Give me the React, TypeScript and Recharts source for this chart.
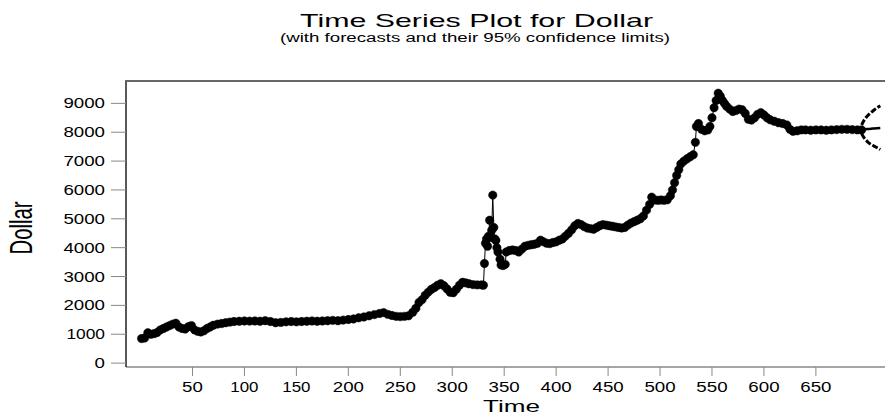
import { LineChart, Line, XAxis, YAxis } from 'recharts';

const times = [
  1, 4, 7, 10, 13, 16, 19, 22, 25, 28, 31, 34, 37, 40, 43, 46, 49, 52, 55, 58,
  61, 64, 67, 70, 74, 78, 82, 86, 90, 95, 100, 105, 110, 115, 120, 125, 130, 135, 140, 145,
  150, 155, 160, 165, 170, 175, 180, 185, 190, 195, 200, 205, 210, 215, 220, 225, 230, 234, 238, 242,
  246, 250, 254, 258, 262, 265, 268, 271, 274, 277, 280, 283, 286, 289, 292, 295, 298, 301, 304, 307,
  310, 313, 316, 320, 324, 328, 330, 331, 332, 333, 334, 335, 336, 337, 338, 339, 340, 341, 342, 343,
  344, 346, 347, 349, 351, 352, 355, 358, 361, 364, 367, 370, 373, 376, 379, 382, 385, 388, 391, 394,
  397, 400, 403, 406, 409, 412, 415, 418, 421, 424, 427, 430, 433, 436, 439, 442, 445, 448, 451, 454,
  457, 460, 463, 466, 469, 472, 475, 478, 481, 484, 487, 490, 492, 495, 498, 501, 504, 507, 510, 512,
  514, 516, 518, 520, 523, 526, 529, 532, 534, 535, 537, 540, 543, 546, 548, 550, 552, 554, 556, 558,
  560, 562, 564, 567, 570, 573, 576, 579, 582, 585, 588, 591, 594, 597, 600, 603, 606, 610, 614, 618,
  622, 625, 628, 632, 636, 640, 645, 650, 655, 660, 665, 670, 675, 680, 685, 690, 694,
];
const dollar = [
  850, 870, 1050, 1000, 1020, 1060, 1150, 1200, 1250, 1300, 1350, 1380, 1250, 1200, 1180, 1260, 1300, 1150, 1100, 1080,
  1120, 1200, 1250, 1310, 1350, 1370, 1400, 1420, 1440, 1450, 1460, 1455, 1460, 1450, 1470, 1440, 1400, 1410, 1430, 1440,
  1430, 1440, 1450, 1460, 1450, 1460, 1470, 1480, 1470, 1490, 1510, 1530, 1570, 1600, 1640, 1680, 1720, 1750, 1690, 1650,
  1620, 1610, 1620, 1640, 1760, 1900, 2100, 2200, 2350, 2460, 2560, 2620, 2700, 2750, 2680, 2570, 2450, 2440, 2560, 2700,
  2800, 2780, 2750, 2720, 2710, 2710, 2700, 3450, 4150, 4300, 4050, 4400, 4950, 4350, 4600, 5820, 4700, 4300, 4250, 4000,
  3850, 3600, 3400, 3380, 3420, 3850, 3900, 3920, 3900, 3850, 3950, 4050, 4080, 4100, 4120, 4150, 4260, 4200, 4150, 4140,
  4180, 4200, 4260, 4300, 4400, 4500, 4620, 4760, 4840, 4800, 4730, 4680, 4660, 4640, 4700, 4760, 4800, 4780, 4760, 4740,
  4720, 4700, 4680, 4700, 4780, 4850, 4900, 4950, 5000, 5100, 5300, 5500, 5750, 5650, 5640, 5650, 5640, 5660, 5800, 6000,
  6250, 6500, 6700, 6900, 7000, 7080, 7150, 7220, 7650, 8200, 8300, 8100, 8050, 8080, 8200, 8500, 8850, 9100, 9350, 9250,
  9100, 9000, 8900, 8800, 8720, 8750, 8800, 8780, 8650, 8450, 8420, 8500, 8620, 8680, 8600, 8500, 8430, 8380, 8330, 8300,
  8250, 8100, 8030, 8050, 8080, 8080, 8070, 8080, 8080, 8070, 8080, 8090, 8100, 8100, 8090, 8080, 8080,
];

// forecasts with 95% limits
const fcTimes = [694, 697, 700, 703, 706, 709, 712];
const fcUpper = [8250, 8450, 8580, 8680, 8770, 8850, 8920];
const fcMid = [8090, 8100, 8110, 8120, 8130, 8140, 8150];
const fcLower = [7950, 7780, 7660, 7580, 7520, 7460, 7400];

const yTicks = [0, 1000, 2000, 3000, 4000, 5000, 6000, 7000, 8000, 9000];
const xTicks = [50, 100, 150, 200, 250, 300, 350, 400, 450, 500, 550, 600, 650];

const series = times.map((t, i) => ({ t, dollar: dollar[i] }));
const upper = fcTimes.map((t, i) => ({ t, v: fcUpper[i] }));
const mid = fcTimes.map((t, i) => ({ t, v: fcMid[i] }));
const lower = fcTimes.map((t, i) => ({ t, v: fcLower[i] }));

const FONT = 'Liberation Sans, Arial, sans-serif';

// the source image is stretched sideways, so labels are widened with textLength
function labelWidth(s: string) {
  return s.length * 10.4 - (s[0] === '1' ? 3 : 0);
}

function YTick({ x, y, payload }: any) {
  const s = String(payload.value);
  return (
    <text x={x} y={y} dy={5} textAnchor="end" fontFamily={FONT} fontSize={14} fill="#000"
      textLength={labelWidth(s)} lengthAdjust="spacingAndGlyphs">
      {s}
    </text>
  );
}

function XTick({ x, y, payload }: any) {
  const s = String(payload.value);
  return (
    <text x={x} y={y} dy={14} textAnchor="middle" fontFamily={FONT} fontSize={14} fill="#000"
      textLength={labelWidth(s)} lengthAdjust="spacingAndGlyphs">
      {s}
    </text>
  );
}

export default function App() {
  return (
    <div style={{ position: 'absolute', left: 0, top: 0, width: 885, height: 414, overflow: 'hidden', background: '#fff' }}>
      {/* top edge of the plot frame (the right edge lies outside the picture) */}
      <div style={{ position: 'absolute', left: 125, top: 80, width: 760, height: 2, background: '#666', zIndex: 5 }} />
      <LineChart width={920} height={414} margin={{ top: 81, right: 21, bottom: 0, left: 0 }}>
        <XAxis
          type="number"
          dataKey="t"
          domain={[-14, 730]}
          ticks={xTicks}
          height={47}
          tickSize={9}
          tickMargin={2}
          tick={<XTick />}
          tickLine={{ stroke: '#888' }}
          axisLine={{ stroke: '#888', strokeWidth: 1.5 }}
          allowDataOverflow
        />
        <YAxis
          type="number"
          domain={[-135, 9775]}
          ticks={yTicks}
          width={126}
          tickSize={15}
          tickMargin={6}
          tick={<YTick />}
          tickLine={{ stroke: '#888' }}
          axisLine={{ stroke: '#222', strokeWidth: 1.5 }}
          allowDataOverflow
        />
        <Line
          data={series}
          dataKey="dollar"
          type="linear"
          stroke="#000"
          strokeWidth={1}
          dot={{ r: 4.2, fill: '#000', stroke: '#000', strokeWidth: 0.5 }}
          isAnimationActive={false}
        />
        <Line data={mid} dataKey="v" type="monotone" stroke="#000" strokeWidth={2.5} dot={false} isAnimationActive={false} />
        <Line data={upper} dataKey="v" type="monotone" stroke="#000" strokeWidth={3} strokeDasharray="6 2" dot={false} isAnimationActive={false} />
        <Line data={lower} dataKey="v" type="monotone" stroke="#000" strokeWidth={3} strokeDasharray="6 2" dot={false} isAnimationActive={false} />
      </LineChart>
      <svg width={885} height={414} style={{ position: 'absolute', left: 0, top: 0, pointerEvents: 'none' }}>
        <text x={476.5} y={27} textAnchor="middle" fontFamily={FONT} fontSize={19} textLength={353} lengthAdjust="spacingAndGlyphs">
          Time Series Plot for Dollar
        </text>
        <text x={475} y={41.5} textAnchor="middle" fontFamily={FONT} fontSize={12} textLength={390} lengthAdjust="spacingAndGlyphs">
          (with forecasts and their 95% confidence limits)
        </text>
        <text x={0} y={0} transform="translate(32.3 228) rotate(-90)" textAnchor="middle" fontFamily={FONT} fontSize={31}
          textLength={53} lengthAdjust="spacingAndGlyphs">
          Dollar
        </text>
        <text x={511.5} y={412} textAnchor="middle" fontFamily={FONT} fontSize={16} textLength={57} lengthAdjust="spacingAndGlyphs">
          Time
        </text>
      </svg>
    </div>
  );
}
